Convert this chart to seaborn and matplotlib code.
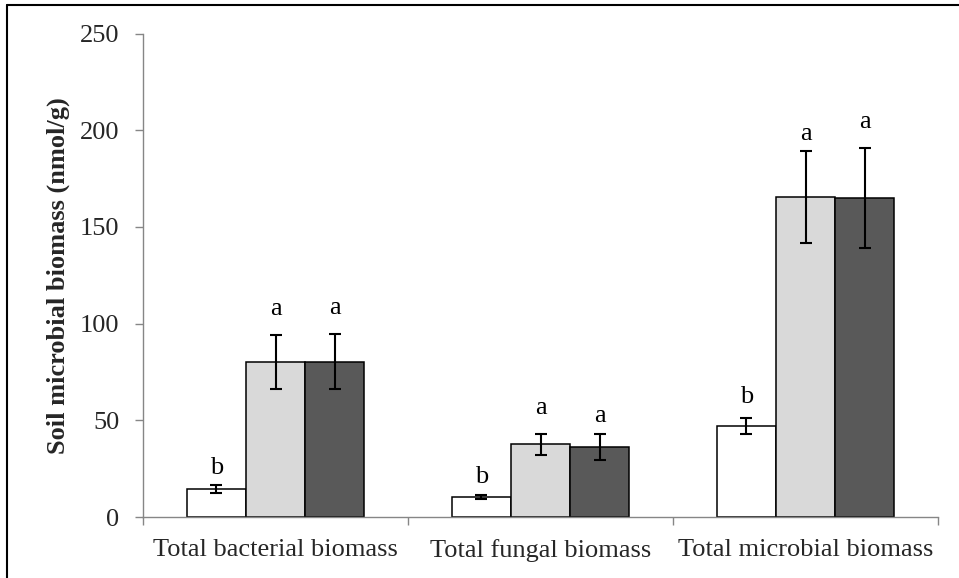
import matplotlib
matplotlib.use("Agg")
import matplotlib.pyplot as plt
from matplotlib.lines import Line2D
from matplotlib.container import BarContainer
import seaborn as sns
import pandas as pd

# Biomass groups and treatments
groups = ["Total bacterial biomass", "Total fungal biomass", "Total microbial biomass"]
treatments = ["Treatment 1", "Treatment 2", "Treatment 3"]

# Mean biomass (nmol/g) per group, one value per treatment
bacterial_mean = [14.5, 80.3, 80.4]
fungal_mean = [10.2, 37.6, 36.2]
microbial_mean = [47.1, 165.5, 165.0]

# Standard errors
bacterial_err = [2.0, 14.0, 14.1]
fungal_err = [1.0, 5.5, 6.5]
microbial_err = [4.0, 23.6, 25.7]

# Significance letters
bacterial_letters = ["b", "a", "a"]
fungal_letters = ["b", "a", "a"]
microbial_letters = ["b", "a", "a"]

yticks = [0, 50, 100, 150, 200, 250]

means = [bacterial_mean, fungal_mean, microbial_mean]
errs = [bacterial_err, fungal_err, microbial_err]
letters = [bacterial_letters, fungal_letters, microbial_letters]

rows = []
for g, m_list, e_list, l_list in zip(groups, means, errs, letters):
    for t, m, e, l in zip(treatments, m_list, e_list, l_list):
        rows.append({"group": g, "treatment": t, "value": m, "err": e, "letter": l})
df = pd.DataFrame(rows)

# styling
colors = ["#FFFFFF", "#D9D9D9", "#595959"]
letter_pad_px = [[11, 20, 20], [12, 20, 12], [15, 11, 20]]
axis_grey = "#868686"
FS = 19

sns.set_theme(style="white")
plt.rcParams["font.family"] = ["Liberation Serif", "DejaVu Serif"]

fig = plt.figure(figsize=(9.59, 5.78), dpi=100)
ax = fig.add_axes([143 / 959, (578 - 517) / 578, (938 - 143) / 959, (517 - 33.5) / 578])

sns.barplot(
    data=df, x="group", y="value", hue="treatment",
    order=groups, hue_order=treatments, palette=colors,
    width=0.668, errorbar=None, edgecolor="black", linewidth=1.1,
    saturation=1, legend=False, ax=ax,
)

# error bars and letters placed from the drawn bars
bar_containers = [c for c in ax.containers if isinstance(c, BarContainer)]
for ti, container in enumerate(bar_containers):
    for gi, patch in enumerate(container.patches):
        x = patch.get_x() + patch.get_width() / 2
        h = patch.get_height()
        e = errs[gi][ti]
        ax.errorbar(x, h, yerr=e, fmt="none", ecolor="black",
                    elinewidth=1.5, capsize=4.3, capthick=1.5, zorder=5)
        ax.annotate(letters[gi][ti], (x, h + e),
                    xytext=(0, letter_pad_px[gi][ti] * 0.72),
                    textcoords="offset points", ha="center", va="baseline",
                    fontsize=FS, color="black")

ax.set_xlim(-0.5, 2.5)
ax.set_ylim(0, 250)
ax.set_yticks(yticks)
ax.set_yticklabels([str(v) for v in yticks], fontsize=FS)
ax.set_xlabel("")
ax.set_ylabel("Soil microbial biomass (nmol/g)", fontsize=FS, fontweight="bold")
ax.yaxis.set_label_coords(-0.092, 0.5)

for side in ["top", "right"]:
    ax.spines[side].set_visible(False)
for side in ["left", "bottom"]:
    ax.spines[side].set_color(axis_grey)
    ax.spines[side].set_linewidth(1.0)

ax.tick_params(axis="y", which="major", length=6, width=1.0, color=axis_grey,
               direction="out", pad=11, left=True)
ax.tick_params(axis="x", which="major", length=0, pad=16, labelsize=FS)
ax.set_xticks([-0.5, 0.5, 1.5, 2.5], minor=True)
ax.tick_params(axis="x", which="minor", length=6, width=1.0, color=axis_grey,
               direction="out", bottom=True)
ax.grid(False)

# figure frame along the top and left edges
fig.add_artist(Line2D([7 / 959, 1.0], [1 - 5 / 578, 1 - 5 / 578],
                      transform=fig.transFigure, color="black", linewidth=1.5))
fig.add_artist(Line2D([7 / 959, 7 / 959], [0.0, 1 - 5 / 578],
                      transform=fig.transFigure, color="black", linewidth=1.5))

fig.savefig("out.png", dpi=100, facecolor="white")
